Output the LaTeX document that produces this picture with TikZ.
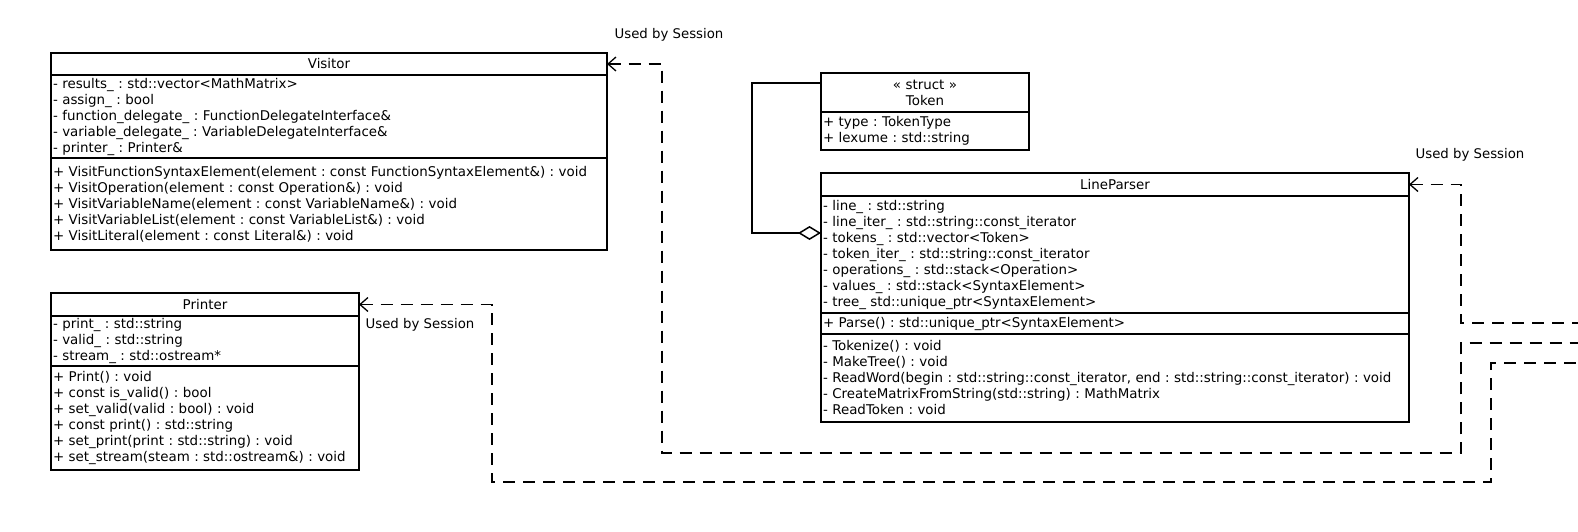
\documentclass[tikz,border=0pt]{standalone}
\usepackage{fontspec}
\setmainfont{DejaVu Sans}
\usetikzlibrary{positioning, arrows.meta}
\frenchspacing

\begin{document}
\begin{tikzpicture}[x=1pt, y=-1pt,
  umlfont/.style={font=\fontsize{13.4}{16}\selectfont},
  compart/.style={draw, line width=1.5pt, outer sep=0pt, umlfont, text width=#1, inner xsep=2pt, inner ysep=0pt, align=left, anchor=north},
  classname/.style={compart=#1, align=center},
  uses/.style={line width=1.3pt, dash pattern=on 12pt off 8pt, {Straight Barb[length=8pt, width=14pt, line width=1.3pt]}-},
  agg/.style={line width=1.5pt, -{Diamond[open, length=23pt, width=14pt, line width=1.5pt]}},
  lbl/.style={font=\fontsize{13.3}{16}\selectfont, inner sep=0pt}]
    \useasboundingbox (0,0) rectangle (1578,532);

    % Visitor
    \node[classname=552pt, anchor=north west, minimum height=22pt] (visitor) at (51,53) {Visitor};
    \node[compart=552pt, minimum height=83pt, below=0pt of visitor] (visitorattr)
      {- results\_ : std::vector<MathMatrix>\\
       - assign\_ : bool\\
       - function\_delegate\_ : FunctionDelegateInterface\&\\
       - variable\_delegate\_ : VariableDelegateInterface\&\\
       - printer\_ : Printer\&};
    \node[compart=552pt, minimum height=92pt, below=0pt of visitorattr] (visitorop)
      {+ VisitFunctionSyntaxElement(element : const FunctionSyntaxElement\&) : void\\
       + VisitOperation(element : const Operation\&) : void\\
       + VisitVariableName(element : const VariableName\&) : void\\
       + VisitVariableList(element : const VariableList\&) : void\\
       + VisitLiteral(element : const Literal\&) : void};

    % Printer
    \node[classname=304pt, anchor=north west, minimum height=23pt] (printer) at (51,293) {Printer};
    \node[compart=304pt, minimum height=50pt, below=0pt of printer] (printerattr)
      {- print\_ : std::string\\
       - valid\_ : std::string\\
       - stream\_ : std::ostream*};
    \node[compart=304pt, minimum height=104pt, below=0pt of printerattr] (printerop)
      {+ Print() : void\\
       + const is\_valid() : bool\\
       + set\_valid(valid : bool) : void\\
       + const print() : std::string\\
       + set\_print(print : std::string) : void\\
       + set\_stream(steam : std::ostream\&) : void};

    % Token
    \node[classname=204pt, anchor=north west, minimum height=39pt] (token) at (821,73) {« struct »\\Token};
    \node[compart=204pt, minimum height=38pt, below=0pt of token] (tokenattr)
      {+ type : TokenType\\
       + lexume : std::string};

    % LineParser
    \node[classname=584pt, anchor=north west, minimum height=23pt] (parser) at (821,173) {LineParser};
    \node[compart=584pt, minimum height=117pt, below=0pt of parser] (parserattr)
      {- line\_ : std::string\\
       - line\_iter\_ : std::string::const\_iterator\\
       - tokens\_ : std::vector<Token>\\
       - token\_iter\_ : std::string::const\_iterator\\
       - operations\_ : std::stack<Operation>\\
       - values\_ : std::stack<SyntaxElement>\\
       - tree\_ std::unique\_ptr<SyntaxElement>};
    \node[compart=584pt, minimum height=21pt, below=0pt of parserattr] (parserpub)
      {+ Parse() : std::unique\_ptr<SyntaxElement>};
    \node[compart=584pt, minimum height=88pt, below=0pt of parserpub] (parserop)
      {- Tokenize() : void\\
       - MakeTree() : void\\
       - ReadWord(begin : std::string::const\_iterator, end : std::string::const\_iterator) : void\\
       - CreateMatrixFromString(std::string) : MathMatrix\\
       - ReadToken : void};

    % Aggregation
    \draw[agg] ([yshift=9.5pt]token.west) -| (752,233) -- (parserattr.west |- 0,233);

    % Used by Session
    \coordinate (visitorend) at (1578,343);
    \coordinate (parserend) at (1578,323);
    \coordinate (printerend) at (1578,363);
    \draw[uses] (visitor.east) -| (662,453) -| (1461,343) -- (visitorend);
    \draw[uses] (parser.east) -| (1461,323) -- (parserend);
    \draw[uses] (printer.east) -| (492,482) -| (1491,363) -- (printerend);

    \node[lbl] (visitorlbl) at (669,35) {Used by Session};
    \node[lbl] (printerlbl) at (420,325) {Used by Session};
    \node[lbl] (parserlbl) at (1470,155) {Used by Session};
\end{tikzpicture}
\end{document}
